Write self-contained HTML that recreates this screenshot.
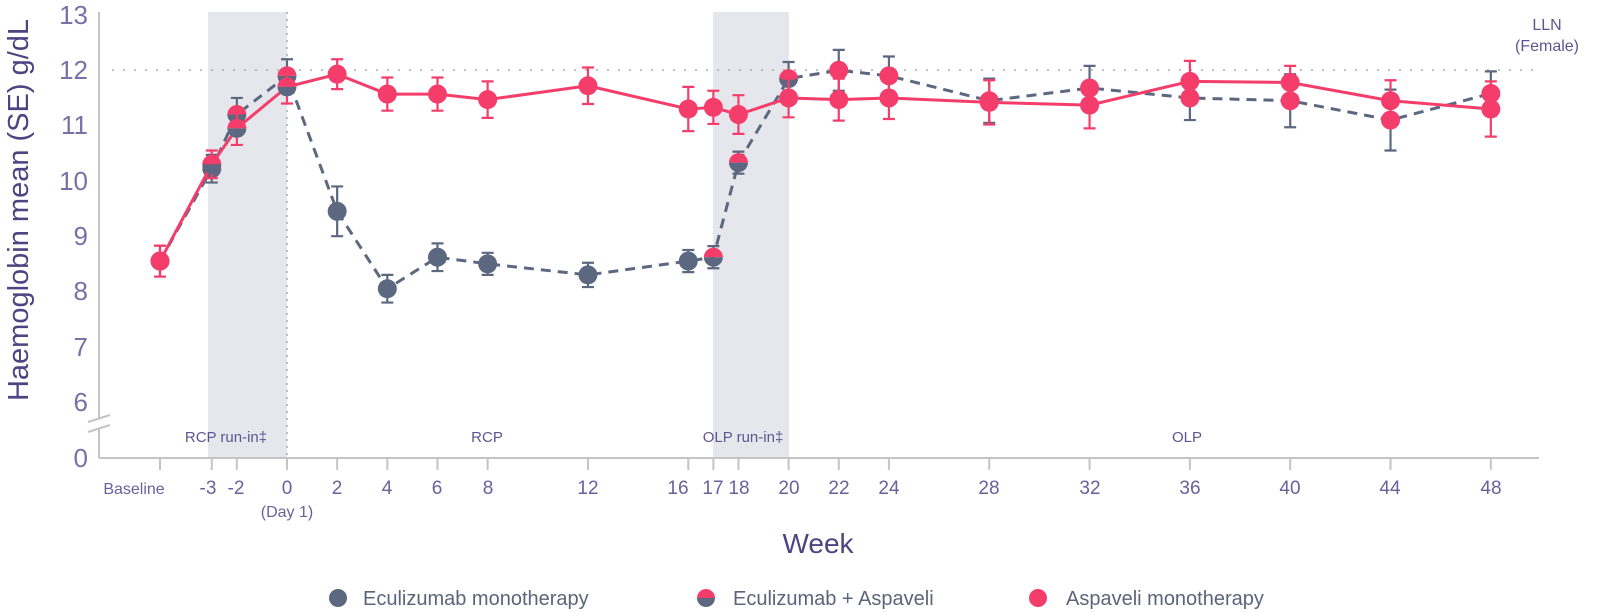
<!DOCTYPE html>
<html><head><meta charset="utf-8"><style>
html,body{margin:0;padding:0;background:#fff;}
svg{display:block;font-family:"Liberation Sans",sans-serif;}
</style></head><body>
<svg id="c" width="1620" height="612" viewBox="0 0 1620 612" xmlns="http://www.w3.org/2000/svg">
<rect x="208" y="12" width="79" height="446" fill="#e6e7ec"/>
<rect x="713" y="12" width="76" height="446" fill="#e6e7ec"/>
<line x1="287" y1="12" x2="287" y2="458" stroke="#aaa" stroke-width="1.5" stroke-dasharray="2,5"/>
<line x1="112" y1="70" x2="1535" y2="70" stroke="#aaa" stroke-width="1.5" stroke-dasharray="2,9"/>
<line x1="99" y1="12" x2="99" y2="458" stroke="#c4c4c4" stroke-width="2"/>
<line x1="99" y1="458" x2="1539" y2="458" stroke="#c4c4c4" stroke-width="2"/>
<rect x="92" y="419" width="14" height="9" fill="#fff"/>
<line x1="88" y1="422" x2="110" y2="415" stroke="#c4c4c4" stroke-width="2"/>
<line x1="88" y1="432" x2="110" y2="425" stroke="#c4c4c4" stroke-width="2"/>
<g id="ticks" stroke="#c4c4c4" stroke-width="2"></g>
<g fill="#7a70a8" font-size="26" text-anchor="end">
<text x="88" y="24">13</text><text x="88" y="79">12</text><text x="88" y="134">11</text><text x="88" y="190">10</text><text x="88" y="245">9</text><text x="88" y="300">8</text><text x="88" y="356">7</text><text x="88" y="411">6</text><text x="88" y="467">0</text>
</g>
<text transform="translate(28,210) rotate(-90)" text-anchor="middle" font-size="29" fill="#4e4482">Haemoglobin mean (SE) g/dL</text>
<g fill="#5f5591" font-size="15" text-anchor="middle">
<text x="226" y="442">RCP run-in‡</text><text x="487" y="442">RCP</text><text x="743" y="442">OLP run-in‡</text><text x="1187" y="442">OLP</text>
</g>
<text x="1547" y="30" text-anchor="middle" font-size="16" fill="#5f5591">LLN</text>
<text x="1547" y="51" text-anchor="middle" font-size="16" fill="#5f5591">(Female)</text>
<g fill="#6a609c" font-size="19" text-anchor="middle">
<text x="134" y="494" font-size="16">Baseline</text>
<text x="208" y="494">-3</text><text x="236" y="494">-2</text><text x="287" y="494">0</text>
<text x="337" y="494">2</text><text x="387" y="494">4</text><text x="437" y="494">6</text><text x="488" y="494">8</text><text x="588" y="494">12</text><text x="678" y="494">16</text><text x="713" y="494">17</text><text x="739" y="494">18</text><text x="789" y="494">20</text><text x="839" y="494">22</text><text x="889" y="494">24</text><text x="989" y="494">28</text><text x="1090" y="494">32</text><text x="1190" y="494">36</text><text x="1290" y="494">40</text><text x="1390" y="494">44</text><text x="1491" y="494">48</text>
<text x="287" y="517" font-size="16">(Day 1)</text>
</g>
<text x="818" y="553" text-anchor="middle" font-size="28" fill="#4e4482">Week</text>
<g font-size="20" fill="#5b6478">
<circle cx="338" cy="598" r="9" fill="#5b6880"/>
<text x="363" y="605">Eculizumab monotherapy</text>
<path d="M697 598 A9 9 0 0 1 715 598 Z" fill="#f53d6b"/><path d="M697 598 A9 9 0 0 0 715 598 Z" fill="#5b6880"/>
<text x="733" y="605">Eculizumab + Aspaveli</text>
<circle cx="1038" cy="598" r="9" fill="#f53d6b"/>
<text x="1066" y="605">Aspaveli monotherapy</text>
</g>
<g id="series"></g>
</svg>
<script>
var NS="http://www.w3.org/2000/svg";
function X(w){return w==="b"?160:287+25.08*w;}
function Y(v){return 15+(13-v)*55.3;}
var P="#f53d6b",G="#5b6880";
var tk=document.getElementById("ticks");
["b",-3,-2,0,2,4,6,8,12,16,17,18,20,22,24,28,32,36,40,44,48].forEach(function(w){
 var l=document.createElementNS(NS,"line");l.setAttribute("x1",X(w));l.setAttribute("x2",X(w));l.setAttribute("y1",458);l.setAttribute("y2",470);tk.appendChild(l);});
var g=[["b",8.55,.28,"g"],[-3,10.22,.25,"c"],[-2,11.2,.3,"c"],[0,11.9,.3,"c"],[2,9.45,.45,"g"],[4,8.05,.25,"g"],[6,8.62,.25,"g"],[8,8.5,.2,"g"],[12,8.3,.22,"g"],[16,8.55,.2,"g"],[17,8.62,.2,"c"],[18,10.33,.2,"c"],[20,11.85,.3,"c"],[22,12.0,.37,"p"],[24,11.9,.35,"p"],[28,11.45,.4,"p"],[32,11.68,.4,"p"],[36,11.5,.4,"p"],[40,11.45,.48,"p"],[44,11.1,.55,"p"],[48,11.58,.4,"p"]];
var p=[["b",8.55,.28,"p"],[-3,10.3,.25,"c"],[-2,10.95,.3,"c"],[0,11.7,.3,"c"],[2,11.93,.27,"p"],[4,11.57,.3,"p"],[6,11.57,.3,"p"],[8,11.47,.33,"p"],[12,11.72,.33,"p"],[16,11.3,.4,"p"],[17,11.33,.3,"p"],[18,11.2,.35,"p"],[20,11.5,.35,"p"],[22,11.47,.38,"p"],[24,11.5,.38,"p"],[28,11.42,.4,"p"],[32,11.37,.42,"p"],[36,11.8,.37,"p"],[40,11.78,.3,"p"],[44,11.45,.37,"p"],[48,11.3,.5,"p"]];
var S=document.getElementById("series");
function el(t,a){var e=document.createElementNS(NS,t);for(var k in a)e.setAttribute(k,a[k]);S.appendChild(e);return e;}
function draw(d,col,dash){
 el("polyline",{points:d.map(function(q){return X(q[0])+","+Y(q[1]);}).join(" "),fill:"none",stroke:col,"stroke-width":3,"stroke-dasharray":dash||"none"});
 d.forEach(function(q){var x=X(q[0]),y1=Y(q[1]+q[2]),y2=Y(q[1]-q[2]);
  el("path",{d:"M"+x+" "+y1+"V"+y2+"M"+(x-6)+" "+y1+"H"+(x+6)+"M"+(x-6)+" "+y2+"H"+(x+6),stroke:col,"stroke-width":2.2,fill:"none"});});
 d.forEach(function(q){var x=X(q[0]),y=Y(q[1]),r=9.5;
  if(q[3]=="c"){el("path",{d:"M"+(x-r)+" "+y+"A"+r+" "+r+" 0 0 1 "+(x+r)+" "+y+"Z",fill:P});el("path",{d:"M"+(x-r)+" "+y+"A"+r+" "+r+" 0 0 0 "+(x+r)+" "+y+"Z",fill:G});}
  else el("circle",{cx:x,cy:y,r:r,fill:q[3]=="p"?P:G});});
}
draw(g,G,"10,7");draw(p,P);
</script>
</body></html>
